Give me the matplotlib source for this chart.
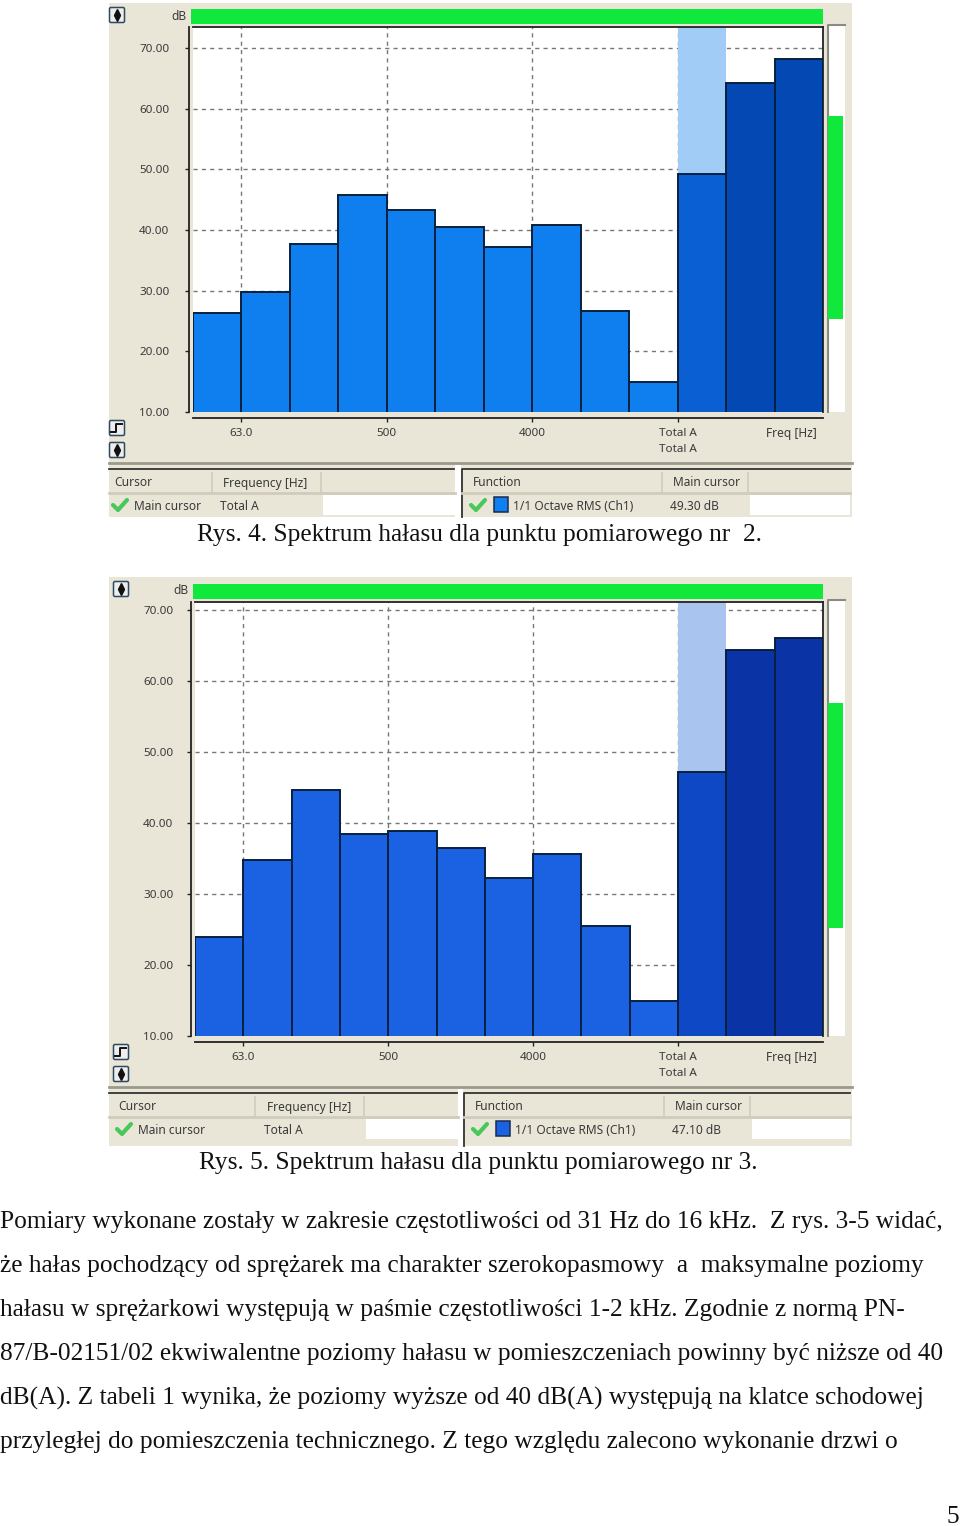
import matplotlib
matplotlib.use('Agg')
import matplotlib.pyplot as plt
from matplotlib.patches import Rectangle, FancyBboxPatch

W = 960
H = 1526
beige = '#e9e6d8'
ui_font = 'Noto Sans'
ui_col = '#3a3a3a'

# values
values4 = [26.3, 29.8, 37.7, 45.8, 43.3, 40.5, 37.2, 40.8, 26.6, 14.9, 49.3, 64.2, 68.3]
values5 = [23.9, 34.8, 44.6, 38.5, 38.9, 36.5, 32.3, 35.6, 25.5, 14.9, 47.1, 64.4, 66.1]
yticks = [10, 20, 30, 40, 50, 60, 70]
xtick_pos = [1, 4, 7, 10]
xtick_labels = ['63.0', '500', '4000', 'Total A\nTotal A']

caption4 = 'Rys. 4. Spektrum hałasu dla punktu pomiarowego nr  2.'
caption5 = 'Rys. 5. Spektrum hałasu dla punktu pomiarowego nr 3.'
body = ['Pomiary wykonane zostały w zakresie częstotliwości od 31 Hz do 16 kHz.  Z rys. 3-5 widać,',
        'że hałas pochodzący od sprężarek ma charakter szerokopasmowy  a  maksymalne poziomy',
        'hałasu w sprężarkowi występują w paśmie częstotliwości 1-2 kHz. Zgodnie z normą PN-',
        '87/B-02151/02 ekwiwalentne poziomy hałasu w pomieszczeniach powinny być niższe od 40',
        'dB(A). Z tabeli 1 wynika, że poziomy wyższe od 40 dB(A) występują na klatce schodowej',
        'przyległej do pomieszczenia technicznego. Z tego względu zalecono wykonanie drzwi o']
body_y = [1220, 1264, 1308, 1352, 1396, 1440]

fig = plt.figure(figsize=(W/100, H/100), dpi=100, facecolor='white')
bg = fig.add_axes([0, 0, 1, 1])
bg.set_xlim(0, W)
bg.set_ylim(H, 0)
bg.axis('off')


def rect(x0, y0, x1, y1, col, z=1, **kw):
	bg.add_patch(Rectangle((x0, y0), x1-x0, y1-y0, facecolor=col, edgecolor='none', zorder=z, **kw))


def ui(x, y, s, **kw):
	bg.text(x, y, s, fontsize=8.6, family=ui_font, color=ui_col, va='center', zorder=5, **kw)


def check(x, y):
	bg.plot([x, x+5, x+14], [y, y+5, y-5], color='#48c85a', lw=3, zorder=5, solid_capstyle='round')


def button(x, y, kind):
	bg.add_patch(FancyBboxPatch((x-6, y-6), 12, 12, boxstyle='round,pad=1.5', fc='#eeeeee', ec='#2f4a60', lw=1.1, zorder=4))
	if kind == 'step':
		bg.plot([x-6, x-1, x-1, x+5], [y+4, y+4, y-4, y-4], color='#111111', lw=1.4, zorder=5)
	else:
		bg.plot([x], [y-3], marker='^', ms=5, color='#111111', zorder=5)
		bg.plot([x], [y+3], marker='v', ms=5, color='#111111', zorder=5)


def chart(values, box, frame, lim_top, cols, light, meter, tbl):
	px0, py0, px1, py1 = box
	fx0, fy0, fx1, fy1 = frame
	rect(px0, py0, px1, py1, beige)
	# green bar on top and level meter at the side
	rect(fx0-2, fy0-18, fx1, fy0-3, '#10e83c', 2)
	rect(828, fy0-2, 845, fy1, 'white', 2)
	bg.plot([845, 828, 828], [fy0-2, fy0-2, fy1], color='#8a8a80', lw=1.5, zorder=3)
	rect(828, meter[0], 843, meter[1], '#10e83c', 3)

	ax = fig.add_axes([fx0/W, 1-fy1/H, (fx1-fx0)/W, (fy1-fy0)/H], facecolor='white')
	# set_position resets the ticks, so it has to come before the labels
	ax.spines['left'].set_position(('outward', 3))
	ax.spines['bottom'].set_position(('outward', 4))
	ax.set_xlim(0, len(values))
	ax.set_ylim(10, lim_top)
	ax.axvspan(10, 11, color=light, lw=0, zorder=1)
	ax.bar(range(len(values)), values, width=1, align='edge', color=cols, edgecolor='#06203f', lw=1.4, zorder=3)
	ax.set_yticks(yticks)
	ax.set_yticklabels(['%.2f' % v for v in yticks], fontsize=8.4, family=ui_font, color=ui_col)
	ax.set_xticks(xtick_pos)
	ax.set_xticklabels(xtick_labels, fontsize=8.4, family=ui_font, color=ui_col, linespacing=1.62)
	ax.tick_params(axis='y', length=3, width=1, color='#222222', pad=tbl['ypad'])
	ax.tick_params(axis='x', length=3, width=1, color='#222222', pad=4.7)
	ax.grid(True, ls=(0, (3, 3)), color='#777777', lw=1, zorder=2)
	ax.set_axisbelow(True)
	for s in ax.spines.values():
		s.set_color('#222222')
		s.set_linewidth(1.3)

	ui(fx0-22, fy0-18+7, 'dB')
	ui(766, fy1+21, 'Freq [Hz]')

	# table under the chart
	t = tbl
	bg.plot([px0, px1], [t['div'], t['div']], color='#9c9a8c', lw=2, zorder=3)
	bg.plot([px0, t['left_end']-1], [t['div']+6, t['div']+6], color='#333333', lw=1.3, zorder=3)
	bg.plot([t['right0'], t['right0'], px1-2], [py1, t['div']+6, t['div']+6], color='#333333', lw=1.3, zorder=3)
	rect(t['white0'], t['row']-10, t['left_end'], t['row']+10, 'white', 2)
	rect(t['white1'], t['row']-10, px1-2, t['row']+10, 'white', 2)
	rect(t['left_end'], t['div']+2, t['right0']-1, py1, 'white', 2)
	bg.plot([px0, t['left_end']], [t['head']+11, t['head']+11], color='#cfccbc', lw=2, zorder=3)
	bg.plot([t['right0'], px1-2], [t['head']+11, t['head']+11], color='#cfccbc', lw=2, zorder=3)
	for x in t['seps']:
		bg.plot([x, x], [t['head']-9, t['head']+10], color='#cfccbc', lw=1.2, zorder=3)
	ui(t['cur'], t['head']+1, 'Cursor')
	ui(t['freq'], t['head']+1, 'Frequency [Hz]')
	ui(t['cur']+20, t['row']+1, 'Main cursor')
	ui(t['freq']-3, t['row']+1, 'Total A')
	ui(t['right0']+11, t['head']+1, 'Function')
	ui(673+t['dx'], t['head']+1, 'Main cursor')
	ui(513+t['dx'], t['row']+1, '1/1 Octave RMS (Ch1)')
	ui(670+t['dx'], t['row']+1, t['total'])
	check(t['cur']-1, t['row'])
	check(t['right0']+9, t['row'])
	bg.add_patch(Rectangle((494+t['dx'], t['row']-8), 14, 15, fc=cols[0], ec='#1a2a50', lw=1.1, zorder=5))
	button(t['btn'], py0+12, 'arrows')
	button(t['btn'], fy1+16, 'step')
	button(t['btn'], fy1+38, 'arrows')


blue4 = ['#0f7ff0']*10 + ['#0a5fd2', '#0448b4', '#0448b4']
blue5 = ['#1a62e2']*10 + ['#0f48c4', '#0a34a6', '#0a34a6']

chart(values4, (109, 3, 852, 517), (193, 27, 823, 412), 73.5, blue4, '#a0ccf5', (116, 319),
	{'div': 463, 'left_end': 455, 'right0': 462, 'white0': 323, 'white1': 750, 'head': 482, 'row': 505,
	 'cur': 114, 'freq': 223, 'dx': 0, 'total': '49.30 dB', 'btn': 117, 'seps': [212, 321, 662, 748], 'ypad': 11})
chart(values5, (109, 577, 852, 1146), (195, 602, 823, 1036), 71.1, blue5, '#a9c4ef', (703, 928),
	{'div': 1087, 'left_end': 458, 'right0': 464, 'white0': 366, 'white1': 752, 'head': 1106, 'row': 1129,
	 'cur': 118, 'freq': 267, 'dx': 2, 'total': '47.10 dB', 'btn': 121, 'seps': [255, 364, 664, 750], 'ypad': 9.5})

serif = 'Liberation Serif'
fs = 18.32
bg.text(197, 535, caption4, fontsize=fs, family=serif, color='#111111', va='center', zorder=6)
bg.text(199, 1163, caption5, fontsize=fs, family=serif, color='#111111', va='center', zorder=6)
for s, y in zip(body, body_y):
	bg.text(0, y+2, s, fontsize=fs, family=serif, color='#111111', va='center')
bg.text(947, 1517, '5', fontsize=fs, family=serif, color='#111111', va='center')

fig.savefig('out.png', dpi=100)
